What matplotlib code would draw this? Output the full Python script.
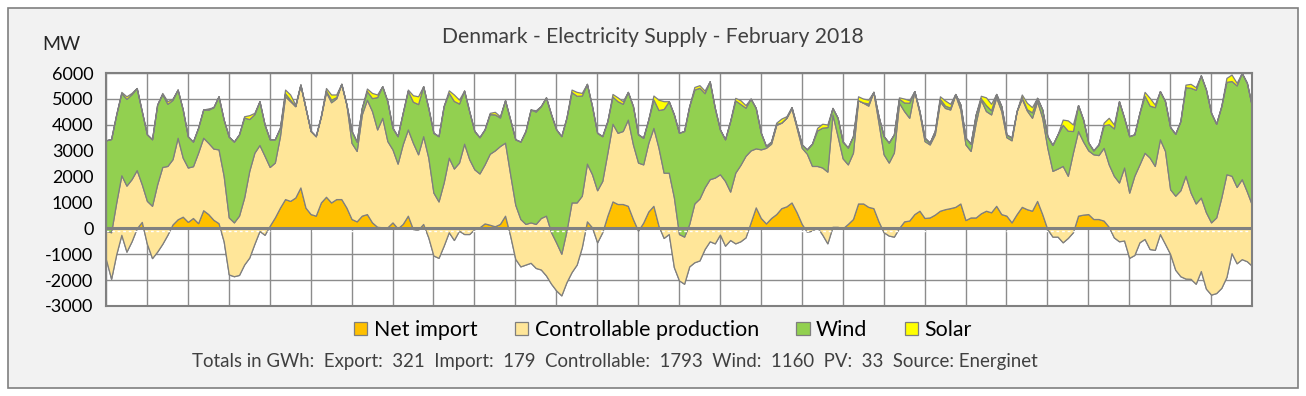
import matplotlib
matplotlib.use("Agg")
import matplotlib.pyplot as plt
import numpy as np
from matplotlib.patches import Rectangle

# ---- data: 3-hourly readings (MW), Feb 2018, 28 days + right edge ----
net_import = [
    -1200, -1950, -1000, -250, -900, -500, 0, 250,
    -600, -1150, -900, -600, -250, 150, 350, 450,
    250, 400, 200, 700, 550, 330, 200, -500,
    -1780, -1850, -1800, -1400, -1130, -600, -100, -250,
    100, 420, 800, 1130, 1060, 1190, 1580, 800,
    550, 490, 1000, 1220, 1000, 1130, 1130, 800,
    360, 270, 490, 550, 230, 60, 40, 40,
    230, 0, 170, 490, -30, -50, 170, -350,
    -1050, -1140, -670, -150, -450, -90, -220, -220,
    -30, 40, 190, 140, 80, 170, 490, -280,
    -1180, -1470, -1400, -1330, -1530, -1590, -1820, -2140,
    -2400, -2590, -2080, -1690, -1400, -730, 270, 40,
    -540, -150, 490, 1040, 940, 940, 870, 360,
    -90, 220, 650, 870, 100, -370, -220, -1500,
    -2010, -2140, -1470, -1310, -1240, -800, -500, -580,
    -240, -670, -450, -580, -500, -350, 230, 810,
    400, 190, 400, 550, 780, 850, 1000, 620,
    170, -130, -90, 40, -240, -580, 60, 60,
    0, 170, 360, 960, 960, 830, 780, 270,
    -150, -280, -320, 10, 270, 300, 550, 680,
    400, 420, 530, 680, 740, 780, 830, 960,
    320, 420, 420, 580, 680, 620, 870, 550,
    490, 230, 550, 830, 740, 680, 1060, 550,
    -30, -320, -320, -540, -370, -150, 490, 530,
    550, 360, 360, 300, 60, -350, -500, -470,
    -1140, -1030, -540, -410, -800, -830, -220, -600,
    -990, -1600, -1850, -1940, -1950, -2140, -1650, -2330,
    -2560, -2500, -2300, -1880, -960, -1350, -1190, -1270,
    -1450,
]

controllable = [
    1100, 1800, 2000, 2300, 2550, 2400, 2250, 1450,
    1660, 2020, 2600, 2970, 2660, 2520, 3150, 2280,
    2100, 2000, 2720, 2800, 2750, 2750, 2850, 2530,
    2200, 2080, 2290, 2590, 3350, 3520, 3320, 3050,
    2270, 2120, 2760, 3970, 3850, 3530, 3970, 3850,
    3210, 3070, 3330, 4050, 3870, 3890, 4450, 3980,
    2940, 2720, 3910, 4420, 4300, 3760, 4230, 3330,
    2820, 2500, 3080, 3330, 3330, 2910, 3390, 3080,
    2430, 2180, 2440, 2880, 2760, 2630, 3490, 2890,
    2310, 2080, 2280, 2740, 2930, 3010, 2820, 2370,
    2090, 1830, 1570, 1560, 1700, 1990, 2310, 1990,
    1850, 1610, 1980, 2690, 2400, 1990, 2230, 2050,
    2010, 1980, 2430, 3000, 2750, 2820, 3330, 2880,
    2630, 2250, 2650, 3010, 3010, 2520, 2370, 2700,
    1790, 1820, 1640, 2270, 2390, 2380, 2400, 2540,
    2330, 2500, 1870, 2730, 2950, 3150, 2780, 2280,
    2650, 2920, 2870, 3440, 3300, 3420, 3630, 3260,
    2940, 3010, 2500, 2370, 2590, 2770, 4340, 3500,
    2700, 2300, 2560, 3990, 3890, 3910, 4490, 3810,
    3010, 2820, 3250, 4840, 4260, 3970, 4750, 3780,
    2970, 2820, 3100, 4220, 3910, 3810, 4320, 3630,
    2920, 2570, 3660, 4390, 3850, 3780, 4190, 3980,
    3030, 3170, 3980, 4180, 3810, 3590, 3850, 3720,
    3140, 2540, 2630, 2950, 2400, 3080, 3270, 2820,
    2460, 2500, 2470, 2810, 2410, 2380, 2270, 2820,
    2520, 3060, 3010, 3330, 3530, 3240, 3660, 3590,
    2500, 2860, 3320, 3970, 3330, 3100, 2840, 2950,
    2790, 2920, 3490, 3970, 2990, 2950, 3090, 2690,
    2350,
]

wind = [
    3500, 3600, 3400, 3170, 3350, 3280, 3170, 2820,
    2570, 2570, 3080, 2810, 2400, 2290, 1860, 1860,
    1200, 950, 960, 1090, 1280, 1600, 2050, 2170,
    3120, 3120, 3140, 3090, 2000, 1490, 1690, 1210,
    1070, 900, 320, 110, 60, 0, 0, 0,
    0, 0, 0, 50, 100, 50, 0, 0,
    460, 360, 250, 330, 500, 1250, 1220, 1540,
    830, 1060, 1210, 1490, 1590, 1940, 1930, 1920,
    2310, 2520, 2950, 2500, 2610, 2280, 2050, 1850,
    1480, 1400, 1350, 1530, 1390, 1100, 1640, 2110,
    2530, 2990, 3590, 4360, 4340, 4320, 4570, 4550,
    4370, 4540, 4370, 4260, 4120, 3870, 3080, 2630,
    2220, 1730, 1220, 1050, 1220, 1050, 1070, 1480,
    1090, 1030, 900, 1100, 1460, 2460, 2760, 3200,
    3910, 4080, 4550, 4400, 4280, 3640, 3780, 2690,
    1730, 1610, 2720, 2790, 2350, 1860, 2000, 1560,
    640, 70, 80, 40, 10, 10, 50, 70,
    130, 170, 860, 1370, 1540, 1720, 250, 710,
    650, 650, 640, 0, 10, 80, 0, 250,
    700, 770, 700, 160, 330, 580, 0, 70,
    130, 70, 130, 100, 90, 70, 40, 190,
    260, 280, 320, 50, 230, 160, 130, 190,
    110, 100, 0, 60, 50, 210, 130, 320,
    450, 1000, 1320, 1590, 1740, 830, 1000, 850,
    300, 150, 410, 870, 1550, 1830, 3140, 1920,
    2180, 1600, 1990, 2200, 2010, 2270, 1860, 1920,
    2400, 2390, 2670, 3420, 4050, 4390, 4720, 4740,
    4230, 3620, 3530, 3570, 3660, 3920, 4100, 4200,
    3800,
]

solar = [
    0, 0, 0, 50, 100, 50, 0, 0,
    0, 0, 0, 50, 100, 50, 0, 0,
    0, 0, 0, 0, 50, 0, 0, 0,
    0, 0, 0, 50, 150, 50, 0, 0,
    0, 0, 0, 150, 200, 60, 0, 0,
    0, 0, 0, 100, 200, 100, 0, 0,
    0, 0, 0, 100, 200, 100, 0, 0,
    0, 0, 0, 50, 250, 300, 0, 0,
    0, 0, 0, 100, 250, 150, 0, 0,
    0, 0, 0, 50, 100, 50, 0, 0,
    0, 0, 0, 0, 50, 0, 0, 0,
    0, 0, 0, 100, 150, 100, 0, 0,
    0, 0, 0, 100, 150, 100, 0, 0,
    0, 0, 0, 150, 400, 300, 0, 0,
    0, 0, 0, 100, 100, 100, 0, 0,
    0, 0, 0, 100, 150, 100, 0, 0,
    0, 0, 0, 50, 150, 50, 0, 0,
    0, 0, 0, 100, 150, 100, 0, 0,
    0, 0, 0, 150, 150, 150, 0, 0,
    0, 0, 0, 50, 150, 100, 0, 0,
    0, 0, 0, 100, 200, 150, 0, 0,
    0, 0, 0, 100, 300, 250, 0, 0,
    0, 0, 0, 100, 250, 200, 0, 0,
    0, 0, 0, 200, 400, 250, 0, 0,
    0, 0, 0, 100, 250, 150, 0, 0,
    0, 0, 0, 150, 300, 100, 0, 0,
    0, 0, 0, 100, 150, 100, 0, 0,
    0, 0, 0, 150, 250, 100, 0, 0,
    0,
]

series_names = ["Net import", "Controllable production", "Wind", "Solar"]
series_colors = ["#FFC000", "#FFE699", "#92D050", "#FFFF00"]
y_ticks = list(range(-3000, 6001, 1000))
title = "Denmark - Electricity Supply - February 2018"
totals_gwh = {"Export": 321, "Import": 179, "Controllable": 1793, "Wind": 1160, "PV": 33}
source = "Energinet"

# ---- figure ----
plt.rcParams["font.family"] = ["Lato", "DejaVu Sans"]
W, H = 1306, 396
fig = plt.figure(figsize=(W / 100, H / 100), dpi=100)
fig.patch.set_facecolor("white")
fig.patches.append(Rectangle((8 / W, 8 / H), (W - 16) / W, (H - 16) / H,
                             transform=fig.transFigure, facecolor="#F2F2F2",
                             edgecolor="#7F7F7F", lw=1.2, zorder=-10))

ax = fig.add_axes([106 / W, 1 - 306 / H, 1146 / W, 233 / H])
ax.set_facecolor("white")

hours = np.arange(len(net_import)) * 3
data = [np.array(net_import, float), np.array(controllable, float),
        np.array(wind, float), np.array(solar, float)]

base = np.zeros_like(hours, dtype=float)
handles = []
for i, (vals, col) in enumerate(zip(data, series_colors)):
    top = base + vals
    h = ax.fill_between(hours, base, top, facecolor=col, edgecolor="#7F7F7F",
                        lw=0.9, zorder=2 + i)
    handles.append(h)
    base = top

ax.axhline(0, color="#808080", lw=2.2, zorder=8)
ax.axhline(-110, color="white", lw=1, ls=(0, (2, 2)), zorder=8.5)

ax.set_xlim(0, hours[-1])
ax.set_ylim(-3000, 6000)
ax.set_yticks(y_ticks)
ax.set_yticklabels([str(t) for t in y_ticks])
ax.set_xticks(np.arange(0, hours[-1] + 1, 24))
ax.set_xticklabels([])
ax.grid(True, color="#8C8C8C", lw=1)
ax.set_axisbelow(True)
ax.tick_params(axis="both", length=0)
ax.tick_params(axis="y", pad=9, labelsize=13, labelcolor="black")
for sp in ax.spines.values():
    sp.set_color("#808080")
    sp.set_linewidth(1.5)
    sp.set_zorder(9)

fig.text(653 / W, 1 - 37 / H, title, ha="center", va="center", fontsize=15.2,
         color="#404040")
fig.text(42 / W, 1 - 45 / H, "MW", ha="left", va="center", fontsize=14,
         color="#262626")

fig.legend(handles, series_names, loc="center",
           bbox_to_anchor=(663 / W, 1 - 330 / H), ncol=4, frameon=False,
           fontsize=15.4, handlelength=0.62, handleheight=0.62,
           columnspacing=1.75, handletextpad=0.3)

footer = ("Totals in GWh:  " +
          "  ".join(f"{k}:  {v}" for k, v in totals_gwh.items()) +
          f"  Source: {source}")
fig.text(615 / W, 1 - 362 / H, footer, ha="center", va="center",
         fontsize=13.4, color="#404040")

fig.savefig("out.png", dpi=100, facecolor=fig.get_facecolor())
